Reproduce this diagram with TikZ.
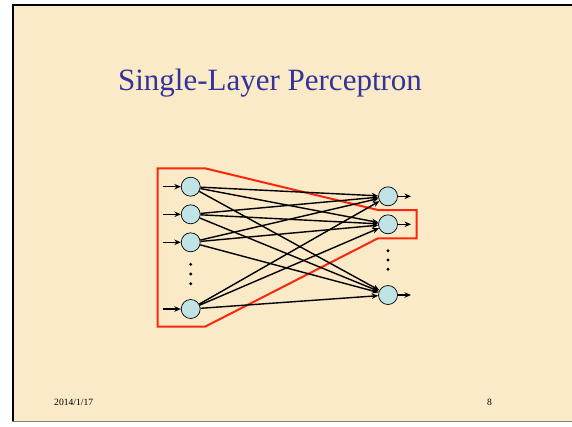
\documentclass[tikz,border=0pt]{standalone}
\usepackage{fontspec}
\setmainfont{Liberation Serif}
\usetikzlibrary{arrows.meta}
\definecolor{parch}{RGB}{250,234,200}
\definecolor{titleblue}{RGB}{51,51,153}
\definecolor{nodefill}{RGB}{192,227,230}
\definecolor{polyred}{RGB}{250,40,10}
\begin{document}
\begin{tikzpicture}[x=1pt,y=-1pt,
  neuron/.style={circle,draw=black,line width=0.7pt,fill=nodefill,minimum size=19pt,inner sep=0pt},
  conn/.style={line width=1.4pt,-{Stealth[length=6.5pt,width=5.5pt]}},
  dotmark/.style={circle,fill=black,minimum size=3.2pt,inner sep=0pt}]
\useasboundingbox (0,0) rectangle (572,426);
\fill[white] (0,0) rectangle (572,426);
\fill[parch] (12,4) rectangle (572,422);
\draw[black,line width=2pt] (13,422) -- (13,5) -- (572,5);
\draw[gray,line width=1pt] (12,421.5) -- (572,421.5);
% title
\node[anchor=base,text=titleblue,font=\fontsize{31}{36}\selectfont,inner sep=0pt] (title) at (270,90) {Single-Layer Perceptron};
% footer
\node[anchor=base west,font=\fontsize{9.6}{12}\selectfont,inner sep=0pt] (date) at (54,405) {2014/1/17};
\node[anchor=base west,font=\fontsize{9.6}{12}\selectfont,inner sep=0pt] (page) at (487,405) {8};
% red polygon
\draw[polyred,line width=2pt] (157.7,168.3) -- (205,168.3) -- (378,210) -- (416.7,210) -- (416.7,238.3) -- (378,238.3) -- (205,326.7) -- (157.7,326.7) -- cycle;
% neurons
\node[neuron] (i1) at (190.7,186.7) {};
\node[neuron] (i2) at (190.7,214.3) {};
\node[neuron] (i3) at (190.7,242.3) {};
\node[neuron] (i4) at (190.7,309) {};
\node[neuron] (o1) at (388,196.3) {};
\node[neuron] (o2) at (388,224.3) {};
\node[neuron] (o3) at (388,295) {};
% dots
\node[dotmark] (di1) at (190.7,264.3) {};
\node[dotmark] (di2) at (190.7,274) {};
\node[dotmark] (di3) at (190.7,283.7) {};
\node[dotmark] (do1) at (388,250.7) {};
\node[dotmark] (do2) at (388,260) {};
\node[dotmark] (do3) at (388,269.3) {};
% inputs / outputs
\foreach \k/\y in {1/186.7,2/214.3,3/242.3,4/309}{
  \coordinate (a\k) at (162.7,\y);
  \draw[conn] (a\k) -- (i\k);
}
\foreach \k/\y in {1/196.3,2/224.3,3/295}{
  \coordinate (b\k) at (411,\y);
  \draw[conn] (o\k) -- (b\k);
}
% connections
\foreach \i in {1,2,3,4}{
  \foreach \o in {1,2,3}{
    \draw[conn] (i\i) -- (o\o);
  }
}
\end{tikzpicture}
\end{document}
